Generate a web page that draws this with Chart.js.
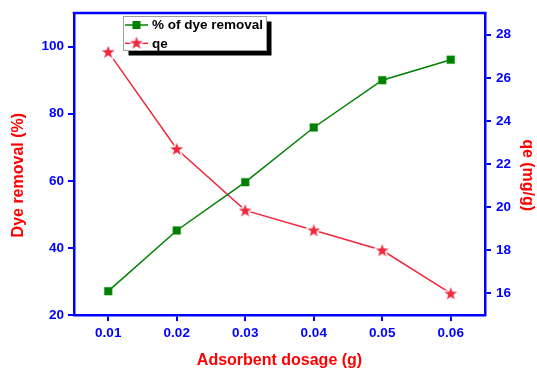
<!DOCTYPE html>
<html>
<head>
<meta charset="utf-8">
<script src="https://cdn.jsdelivr.net/npm/chart.js@4.4.0/dist/chart.umd.min.js"></script>
<style>
  html, body { margin: 0; background: #fff; }
  #wrap { width: 537px; height: 370px; }
</style>
</head>
<body>
<div id="wrap"><canvas id="dosageChart"></canvas></div>
<script>
// adsorbent dosage (g) vs. dye removal and adsorption capacity
const dosage = [0.01, 0.02, 0.03, 0.04, 0.05, 0.06];
const dyeRemoval = [27.1, 45.2, 59.6, 75.9, 90.0, 96.1];
const qe = [27.2, 22.7, 19.85, 18.93, 18.0, 16.0];

const dosageTicks = [0.01, 0.02, 0.03, 0.04, 0.05, 0.06];
const removalTicks = [20, 40, 60, 80, 100];
const qeTicks = [16, 18, 20, 22, 24, 26, 28];

const BLUE = '#0000ff';
const RED = '#ff0000';
const GREEN = '#008000';
const STAR_RED = '#f0283c';

Chart.defaults.font.family = '"Liberation Sans", Arial, sans-serif';

// filled five-point star with a white rim, so the line breaks around it
function makeStar(color) {
  const c = document.createElement('canvas');
  c.width = 18; c.height = 18;
  const g = c.getContext('2d');
  g.beginPath();
  for (let i = 0; i < 10; i++) {
    const r = i % 2 ? 2.7 : 6.8;
    const a = -Math.PI / 2 + i * Math.PI / 5;
    g.lineTo(9 + r * Math.cos(a), 9.5 + r * Math.sin(a));
  }
  g.closePath();
  g.strokeStyle = '#fff';
  g.lineWidth = 3;
  g.lineJoin = 'round';
  g.stroke();
  g.fillStyle = color;
  g.fill();
  return c;
}
const star = makeStar(STAR_RED);

const fixedTicks = (list) => (scale) => { scale.ticks = list.map(v => ({ value: v })); };

// top edge of the frame
const frameTop = {
  id: 'frameTop',
  afterDraw(chart) {
    const { ctx, chartArea: a } = chart;
    ctx.save();
    ctx.strokeStyle = BLUE;
    ctx.lineWidth = 2.5;
    ctx.beginPath();
    ctx.moveTo(a.left - 1.25, a.top);
    ctx.lineTo(a.right + 1.25, a.top);
    ctx.stroke();
    ctx.restore();
  }
};

// boxed legend with a drop shadow, line + marker samples
const boxLegend = {
  id: 'boxLegend',
  afterDraw(chart) {
    const { ctx } = chart;
    const x = 123.5, y = 16.5, w = 143, h = 34;
    ctx.save();
    ctx.fillStyle = '#000';
    ctx.fillRect(x + 5, y + 5, w, h);
    ctx.fillStyle = '#fff';
    ctx.fillRect(x, y, w, h);
    ctx.strokeStyle = '#a0a0a0';
    ctx.lineWidth = 1;
    ctx.strokeRect(x, y, w, h);

    ctx.font = 'bold 13.5px "Liberation Sans", Arial, sans-serif';
    ctx.textBaseline = 'middle';
    chart.data.datasets.forEach((ds, i) => {
      const cy = 25 + i * 18.3;
      ctx.strokeStyle = ds.borderColor;
      ctx.lineWidth = 1.5;
      ctx.beginPath();
      ctx.moveTo(125, cy);
      ctx.lineTo(148, cy);
      ctx.stroke();
      if (ds.pointStyle === 'rect') {
        ctx.fillStyle = ds.backgroundColor;
        ctx.fillRect(132.5, cy - 4, 8, 8);
      } else {
        ctx.drawImage(ds.pointStyle, 136.5 - 9, cy - 9.5);
      }
      ctx.fillStyle = '#000';
      ctx.fillText(ds.label, 152, cy + 0.5);
    });
    ctx.restore();
  }
};

const tickFont = { size: 13.5, weight: 'bold' };
const titleFont = { size: 16, weight: 'bold' };
const gridOpts = { drawOnChartArea: false, drawTicks: true, tickLength: 6, color: BLUE, lineWidth: 2 };
const borderOpts = { color: BLUE, width: 2.5 };

new Chart(document.getElementById('dosageChart'), {
  type: 'line',
  data: {
    datasets: [
      {
        label: '% of dye removal',
        data: dosage.map((x, i) => ({ x, y: dyeRemoval[i] })),
        yAxisID: 'y',
        borderColor: GREEN,
        backgroundColor: GREEN,
        borderWidth: 1.5,
        pointStyle: 'rect',
        pointRadius: 5.5,
        pointBorderWidth: 0.5,
        pointBorderColor: '#2a9a2a'
      },
      {
        label: 'qe',
        data: dosage.map((x, i) => ({ x, y: qe[i] })),
        yAxisID: 'y2',
        borderColor: STAR_RED,
        backgroundColor: STAR_RED,
        borderWidth: 1.5,
        pointStyle: star,
        pointRadius: 7
      }
    ]
  },
  options: {
    responsive: true,
    maintainAspectRatio: false,
    animation: false,
    layout: { padding: { top: 12, left: 0, right: 0, bottom: 0 } },
    plugins: {
      legend: { display: false },
      tooltip: { enabled: false }
    },
    scales: {
      x: {
        type: 'linear',
        min: 0.005,
        max: 0.065,
        afterBuildTicks: fixedTicks(dosageTicks),
        afterFit: (s) => { s.height = 55; },
        grid: gridOpts,
        border: borderOpts,
        ticks: { color: BLUE, font: tickFont, padding: 4, maxRotation: 0, callback: (v) => v.toFixed(2) },
        title: { display: true, text: 'Adsorbent dosage (g)', color: RED, font: titleFont, padding: { top: 0, bottom: 0 } }
      },
      y: {
        type: 'linear',
        position: 'left',
        min: 20,
        max: 110,
        afterBuildTicks: fixedTicks(removalTicks),
        afterFit: (s) => { s.width = 74; },
        grid: gridOpts,
        border: borderOpts,
        ticks: { color: BLUE, font: tickFont, padding: 4 },
        title: { display: true, text: 'Dye removal (%)     ', color: RED, font: titleFont, padding: { top: 9 } }
      },
      y2: {
        type: 'linear',
        position: 'right',
        min: 15,
        max: 29,
        afterBuildTicks: fixedTicks(qeTicks),
        afterFit: (s) => { s.width = 52; },
        grid: gridOpts,
        border: borderOpts,
        ticks: { color: BLUE, font: tickFont, padding: 5 },
        title: { display: true, text: '     qe (mg/g)', color: RED, font: titleFont, padding: { top: 0 } }
      }
    }
  },
  plugins: [frameTop, boxLegend]
});
</script>
</body>
</html>
